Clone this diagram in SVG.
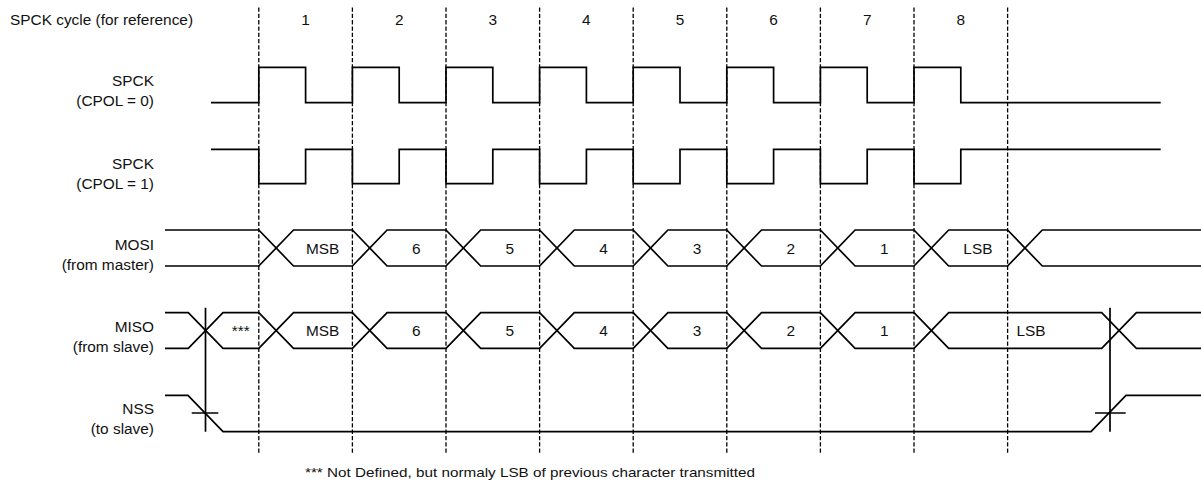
<svg xmlns="http://www.w3.org/2000/svg" width="1201" height="483" viewBox="0 0 1201 483">
<style>
text{font-family:"Liberation Sans",Arial,sans-serif;font-size:15.4px;fill:#111}
.lbl{text-anchor:end}
.mid{text-anchor:middle}
.foot{font-size:13px}
.sig{fill:none;stroke:#000;stroke-width:1.7;stroke-linejoin:miter}
.grid{fill:none;stroke:#000;stroke-width:1.3;stroke-dasharray:4.3 2}
</style>
<rect width="1201" height="483" fill="#fff"/>
<g id="grid" class="connectors">
<path class="grid" d="M258.8,7.5V454.5M352.4,7.5V454.5M446,7.5V454.5M539.6,7.5V454.5M633.2,7.5V454.5M726.8,7.5V454.5M820.4,7.5V454.5M914,7.5V454.5M1007.6,7.5V454.5"/>
</g>
<g id="cycle-ref">
<text x="10" y="25">SPCK cycle (for reference)</text>
<text class="mid" x="305.6" y="25">1</text>
<text class="mid" x="399.2" y="25">2</text>
<text class="mid" x="492.8" y="25">3</text>
<text class="mid" x="586.4" y="25">4</text>
<text class="mid" x="680" y="25">5</text>
<text class="mid" x="773.6" y="25">6</text>
<text class="mid" x="867.2" y="25">7</text>
<text class="mid" x="960.8" y="25">8</text>
</g>
<g id="spck0">
<text class="lbl" x="154" y="85.5">SPCK</text>
<text class="lbl" x="154" y="105.5">(CPOL = 0)</text>
<path class="sig" d="M211,102.7H258.8V67.3H305.6V102.7H352.4V67.3H399.2V102.7H446V67.3H492.8V102.7H539.6V67.3H586.4V102.7H633.2V67.3H680V102.7H726.8V67.3H773.6V102.7H820.4V67.3H867.2V102.7H914V67.3H960.8V102.7H1160.7"/>
</g>
<g id="spck1">
<text class="lbl" x="154" y="168.5">SPCK</text>
<text class="lbl" x="154" y="188.5">(CPOL = 1)</text>
<path class="sig" d="M211,149.3H258.8V183.7H305.6V149.3H352.4V183.7H399.2V149.3H446V183.7H492.8V149.3H539.6V183.7H586.4V149.3H633.2V183.7H680V149.3H726.8V183.7H773.6V149.3H820.4V183.7H867.2V149.3H914V183.7H960.8V149.3H1160.7"/>
</g>
<g id="mosi">
<text class="lbl" x="154" y="250">MOSI</text>
<text class="lbl" x="154" y="270">(from master)</text>
<path class="sig" d="M165,230H258.8L293.5,266H352.4L387.1,230H446L480.7,266H539.6L574.3,230H633.2L667.9,266H726.8L761.5,230H820.4L855.1,266H914L948.7,230H1007.6L1042.3,266H1201"/>
<path class="sig" d="M165,266H258.8L293.5,230H352.4L387.1,266H446L480.7,230H539.6L574.3,266H633.2L667.9,230H726.8L761.5,266H820.4L855.1,230H914L948.7,266H1007.6L1042.3,230H1201"/>
<text class="mid" x="322.7" y="254">MSB</text>
<text class="mid" x="416.3" y="254">6</text>
<text class="mid" x="509.9" y="254">5</text>
<text class="mid" x="603.5" y="254">4</text>
<text class="mid" x="697.1" y="254">3</text>
<text class="mid" x="790.7" y="254">2</text>
<text class="mid" x="884.3" y="254">1</text>
<text class="mid" x="977.9" y="254">LSB</text>
</g>
<g id="miso">
<text class="lbl" x="154" y="332">MISO</text>
<text class="lbl" x="154" y="352">(from slave)</text>
<path class="sig" d="M165,312.7H188.3L223,348.3H258.8L293.5,312.7H352.4L387.1,348.3H446L480.7,312.7H539.6L574.3,348.3H633.2L667.9,312.7H726.8L761.5,348.3H820.4L855.1,312.7H914L948.7,348.3H1101.7L1136.4,312.7H1201"/>
<path class="sig" d="M165,348.3H188.3L223,312.7H258.8L293.5,348.3H352.4L387.1,312.7H446L480.7,348.3H539.6L574.3,312.7H633.2L667.9,348.3H726.8L761.5,312.7H820.4L855.1,348.3H914L948.7,312.7H1101.7L1136.4,348.3H1201"/>
<text class="mid" x="240.8" y="336">***</text>
<text class="mid" x="322.7" y="336">MSB</text>
<text class="mid" x="416.3" y="336">6</text>
<text class="mid" x="509.9" y="336">5</text>
<text class="mid" x="603.5" y="336">4</text>
<text class="mid" x="697.1" y="336">3</text>
<text class="mid" x="790.7" y="336">2</text>
<text class="mid" x="884.3" y="336">1</text>
<text class="mid" x="1031" y="336">LSB</text>
</g>
<g id="nss">
<text class="lbl" x="154" y="414">NSS</text>
<text class="lbl" x="154" y="434">(to slave)</text>
<path class="sig" d="M165,395.3H188L223,431.7H1091L1126,395.3H1201"/>
<path class="sig" d="M191.7,413H218.3M1095,413H1125.7"/>
</g>
<g id="markers">
<path class="sig" d="M205.5,307.7V431.7M1110,307.7V431.7"/>
</g>
<g id="footnote">
<text class="foot" x="305" y="477" textLength="450" lengthAdjust="spacingAndGlyphs">*** Not Defined, but normaly LSB of previous character transmitted</text>
</g>
</svg>
